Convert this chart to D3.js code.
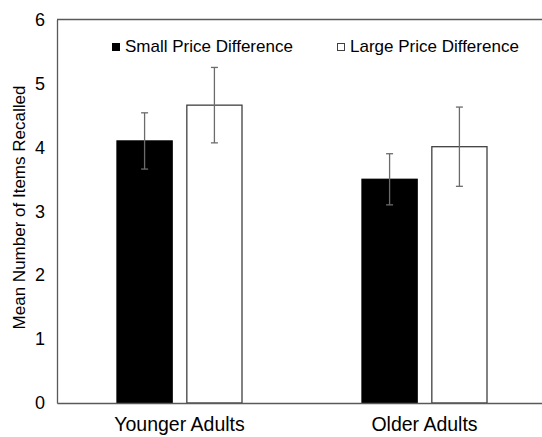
<!DOCTYPE html>
<html>
<head>
<meta charset="utf-8">
<script src="https://cdn.jsdelivr.net/npm/d3@7"></script>
<style>
  body { margin: 0; background: #fff; }
  svg { display: block; font-family: Arial, "Liberation Sans", sans-serif; }
</style>
</head>
<body>
<div id="chart"></div>
<script>
// data
const groups = ["Younger Adults", "Older Adults"];
const seriesNames = ["Small Price Difference", "Large Price Difference"];
const smallMeans = [4.10, 3.50];
const smallErr = [0.44, 0.40];
const largeMeans = [4.66, 4.01];
const largeErr = [0.59, 0.62];
const yTicks = [0, 1, 2, 3, 4, 5, 6];

const width = 542, height = 437;
const margin = { top: 19.5, right: -5, bottom: 34, left: 57 };
const innerW = width - margin.left - margin.right;
const innerH = height - margin.top - margin.bottom;

const svg = d3.select("#chart").append("svg")
  .attr("width", width)
  .attr("height", height);

const g = svg.append("g")
  .attr("transform", "translate(" + margin.left + "," + margin.top + ")");

const x = d3.scaleBand().domain(groups).range([0, innerW]);
const x1 = d3.scaleBand().domain(seriesNames)
  .range([x.bandwidth() / 2 - 62.5, x.bandwidth() / 2 + 62.5])
  .paddingInner(0.21);
const y = d3.scaleLinear().domain([0, 6]).range([innerH, 0]);

const rows = groups.map((gr, i) => ({
  group: gr,
  values: [
    { name: seriesNames[0], mean: smallMeans[i], err: smallErr[i], fill: "#000" },
    { name: seriesNames[1], mean: largeMeans[i], err: largeErr[i], fill: "#fff" }
  ]
}));

// frame (top border of the plot area)
g.append("line")
  .attr("x1", 0).attr("x2", innerW)
  .attr("y1", 0).attr("y2", 0)
  .attr("stroke", "#595959").attr("stroke-width", 1.3);

// y axis
const yAxis = g.append("g")
  .call(d3.axisLeft(y).tickValues(yTicks).tickFormat(d3.format("d")).tickSize(0).tickPadding(12));
yAxis.select(".domain").attr("stroke", "#595959").attr("stroke-width", 1.3);
yAxis.selectAll("text")
  .style("font-size", "18px")
  .style("font-family", "Arial, 'Liberation Sans', sans-serif")
  .attr("fill", "#000");

svg.append("text")
  .attr("transform", "translate(25," + 207.5 + ") rotate(-90)")
  .attr("text-anchor", "middle")
  .style("font-size", "17px")
  .text("Mean Number of Items Recalled");

// bars
const grp = g.selectAll(".grp")
  .data(rows)
  .enter()
  .append("g")
  .attr("transform", d => "translate(" + x(d.group) + ",0)");

grp.selectAll("rect")
  .data(d => d.values)
  .enter()
  .append("rect")
  .attr("x", d => x1(d.name))
  .attr("y", d => y(d.mean))
  .attr("width", x1.bandwidth())
  .attr("height", d => innerH - y(d.mean))
  .attr("fill", d => d.fill)
  .attr("stroke", d => d.fill === "#000" ? "#000" : "#404040")
  .attr("stroke-width", 1.3);

// error bars
const cap = 3.5;
const eb = grp.selectAll(".eb")
  .data(d => d.values)
  .enter()
  .append("g")
  .attr("stroke", "#6b6b6b")
  .attr("stroke-width", 1.3);
eb.append("line")
  .attr("x1", d => x1(d.name) + x1.bandwidth() / 2)
  .attr("x2", d => x1(d.name) + x1.bandwidth() / 2)
  .attr("y1", d => y(d.mean + d.err))
  .attr("y2", d => y(d.mean - d.err));
eb.append("line")
  .attr("x1", d => x1(d.name) + x1.bandwidth() / 2 - cap)
  .attr("x2", d => x1(d.name) + x1.bandwidth() / 2 + cap)
  .attr("y1", d => y(d.mean + d.err))
  .attr("y2", d => y(d.mean + d.err));
eb.append("line")
  .attr("x1", d => x1(d.name) + x1.bandwidth() / 2 - cap)
  .attr("x2", d => x1(d.name) + x1.bandwidth() / 2 + cap)
  .attr("y1", d => y(d.mean - d.err))
  .attr("y2", d => y(d.mean - d.err));

// x axis
const xAxis = g.append("g")
  .attr("transform", "translate(0," + innerH + ")")
  .call(d3.axisBottom(x).tickSize(0).tickPadding(14));
xAxis.select(".domain").attr("stroke", "#595959").attr("stroke-width", 1.3);
xAxis.selectAll("text")
  .style("font-size", "19.5px")
  .style("font-family", "Arial, 'Liberation Sans', sans-serif")
  .attr("fill", "#000");

// legend
const legendX = [112, 337];
const legend = svg.selectAll(".legend")
  .data(seriesNames)
  .enter()
  .append("g")
  .attr("transform", (d, i) => "translate(" + legendX[i] + ",43)");
legend.append("rect")
  .attr("x", 0.5).attr("y", 0.5)
  .attr("width", 7).attr("height", 7)
  .attr("fill", (d, i) => i === 0 ? "#000" : "#fff")
  .attr("stroke", (d, i) => i === 0 ? "#000" : "#404040")
  .attr("stroke-width", 1);
legend.append("text")
  .attr("x", 13)
  .attr("y", 9)
  .style("font-size", "17px")
  .text(d => d);
</script>
</body>
</html>
